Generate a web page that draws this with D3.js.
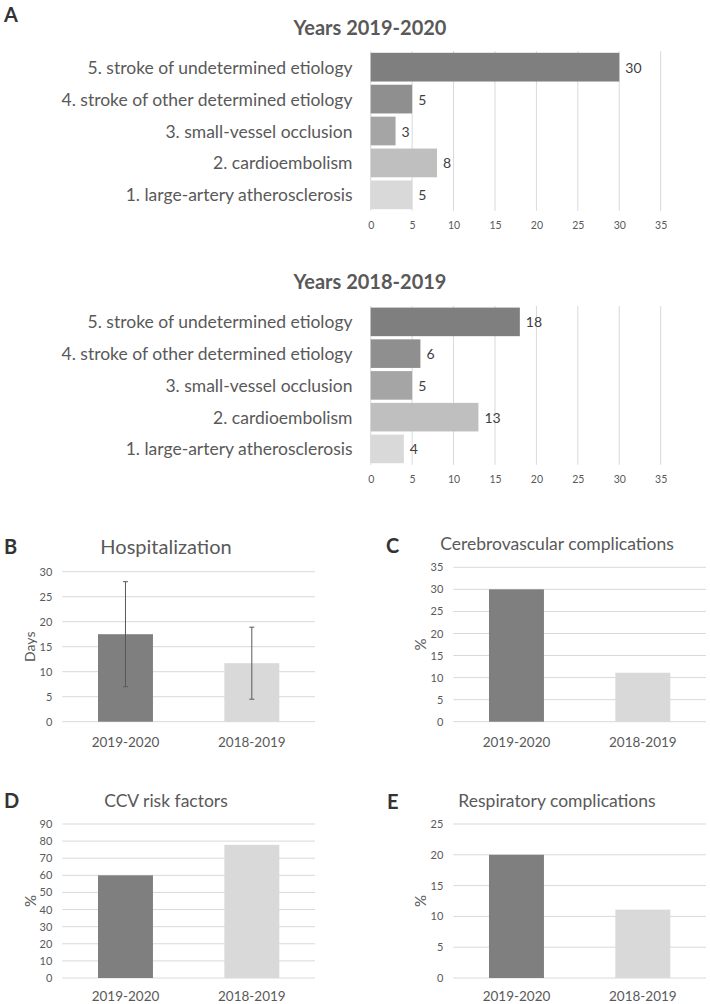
<!DOCTYPE html>
<html>
<head>
<meta charset="utf-8">
<script src="https://cdn.jsdelivr.net/npm/d3@7"></script>
<style>
  html, body { margin: 0; padding: 0; background: #fff; }
  svg { display: block; }
  text { font-family: Lato, "Open Sans", sans-serif; }
</style>
</head>
<body>
<svg id="chart" width="710" height="1004"></svg>
<script>
// ---------- DATA ----------
const etiologyCategories = [
  "1. large-artery atherosclerosis",
  "2. cardioembolism",
  "3. small-vessel occlusion",
  "4. stroke of other determined etiology",
  "5. stroke of undetermined etiology"
];
const counts2019_2020 = [5, 8, 3, 5, 30];
const counts2018_2019 = [4, 13, 5, 6, 18];
const etiologyTicks = [0, 5, 10, 15, 20, 25, 30, 35];

const periods = ["2019-2020", "2018-2019"];
const hospitalizationDays = [17.5, 11.7];
const hospitalizationErr = [10.5, 7.2];
const hospitalizationTicks = [0, 5, 10, 15, 20, 25, 30];
const cerebrovascularPct = [30, 11.1];
const cerebrovascularTicks = [0, 5, 10, 15, 20, 25, 30, 35];
const ccvRiskPct = [60, 77.8];
const ccvRiskTicks = [0, 10, 20, 30, 40, 50, 60, 70, 80, 90];
const respiratoryPct = [20, 11.1];
const respiratoryTicks = [0, 5, 10, 15, 20, 25];

// ---------- STYLE ----------
const TEXT = "#595959";
const GRID = "#d9d9d9";
const catColors = ["#d9d9d9", "#bfbfbf", "#a5a5a5", "#8f8f8f", "#7f7f7f"];
const periodColors = ["#7f7f7f", "#d9d9d9"];

const svg = d3.select("#chart");

function panelLetter(t, x, y) {
  svg.append("text").attr("x", x).attr("y", y).text(t)
    .attr("font-size", 20).attr("font-weight", 700).attr("fill", "#333")
    .attr("dominant-baseline", "central");
}

// ---------- Panel A: horizontal bars ----------
function hbar(title, titleY, values, yTop, yBottom) {
  const g = svg.append("g");
  const x = d3.scaleLinear().domain([0, 35]).range([370.7, 660.7]);
  const cats = etiologyCategories.slice().reverse();
  const y = d3.scaleBand().domain(cats).range([yTop, yBottom]).paddingInner(0.1).paddingOuter(0.05);

  g.append("text").attr("x", 370).attr("y", titleY).text(title)
    .attr("text-anchor", "middle").attr("font-size", 20).attr("font-weight", 700)
    .attr("fill", TEXT).attr("dominant-baseline", "central");

  // grid
  g.selectAll(".grid").data(etiologyTicks).join("line")
    .attr("x1", d => x(d)).attr("x2", d => x(d))
    .attr("y1", yTop).attr("y2", yBottom)
    .attr("stroke", GRID).attr("stroke-width", 1);

  // axis
  const ax = d3.axisBottom(x).tickValues(etiologyTicks).tickSize(0).tickPadding(0);
  const axg = g.append("g").attr("transform", `translate(0,${yBottom + 15})`).call(ax);
  axg.select(".domain").remove();
  axg.selectAll("text").attr("font-size", 10.5).attr("fill", TEXT)
    .attr("font-family", "Lato, sans-serif").attr("dy", "0.32em").attr("y", 0);

  // category labels
  g.selectAll(".cat").data(cats).join("text")
    .attr("x", 352.5).attr("y", d => y(d) + y.bandwidth() / 2)
    .attr("text-anchor", "end").attr("dominant-baseline", "central")
    .attr("font-size", 17.5).attr("fill", TEXT).text(d => d);

  const rows = etiologyCategories.map((c, i) => ({ c, v: values[i], col: catColors[i] }));
  g.selectAll(".bar").data(rows).join("rect")
    .attr("x", x(0)).attr("y", d => y(d.c))
    .attr("width", d => x(d.v) - x(0)).attr("height", y.bandwidth())
    .attr("fill", d => d.col);

  g.selectAll(".val").data(rows).join("text")
    .attr("x", d => x(d.v) + 6).attr("y", d => y(d.c) + y.bandwidth() / 2)
    .attr("dominant-baseline", "central").attr("font-size", 14).attr("fill", "#404040")
    .text(d => d.v);
}

panelLetter("A", 4, 14);
hbar("Years 2019-2020", 27, counts2019_2020, 51.2, 210.8);
hbar("Years 2018-2019", 281, counts2018_2019, 306, 464.8);

// ---------- Vertical bar panels ----------
function vbar(opts) {
  const { x0, x1, yMaxPix, yZeroPix, max, ticks, values, err, title, titleX, titleY, ylabel, ylabelX, ylabelSize, catY, titleSize } = opts;
  const g = svg.append("g");
  const x = d3.scaleBand().domain(periods).range([x0, x1]).paddingInner(0.565).paddingOuter(0.2825);
  const y = d3.scaleLinear().domain([0, max]).range([yZeroPix, yMaxPix]);

  g.selectAll(".grid").data(ticks).join("line")
    .attr("x1", x0).attr("x2", x1)
    .attr("y1", d => y(d)).attr("y2", d => y(d))
    .attr("stroke", GRID).attr("stroke-width", 1);

  const ay = d3.axisLeft(y).tickValues(ticks).tickSize(0).tickPadding(0);
  const ayg = g.append("g").attr("transform", `translate(${x0 - 10},0)`).call(ay);
  ayg.select(".domain").remove();
  ayg.selectAll("text").attr("font-size", 11).attr("fill", TEXT).attr("font-family", "Lato, sans-serif");

  const ax = d3.axisBottom(x).tickSize(0).tickPadding(0);
  const axg = g.append("g").attr("transform", `translate(0,${catY})`).call(ax);
  axg.select(".domain").remove();
  axg.selectAll("text").attr("font-size", 13.5).attr("fill", TEXT)
    .attr("font-family", "Lato, sans-serif").attr("dy", "0.35em").attr("y", 0);

  const rows = periods.map((p, i) => ({ p, v: values[i], e: err ? err[i] : null, col: periodColors[i] }));
  g.selectAll(".bar").data(rows).join("rect")
    .attr("x", d => x(d.p)).attr("y", d => y(d.v))
    .attr("width", x.bandwidth()).attr("height", d => y(0) - y(d.v))
    .attr("fill", d => d.col);

  if (err) {
    rows.forEach(d => {
      const cx = x(d.p) + x.bandwidth() / 2;
      const eg = g.append("g").attr("stroke", "#595959").attr("stroke-width", 1);
      eg.append("line").attr("x1", cx).attr("x2", cx).attr("y1", y(d.v + d.e)).attr("y2", y(d.v - d.e));
      eg.append("line").attr("x1", cx - 2.5).attr("x2", cx + 2.5).attr("y1", y(d.v + d.e)).attr("y2", y(d.v + d.e));
      eg.append("line").attr("x1", cx - 2.5).attr("x2", cx + 2.5).attr("y1", y(d.v - d.e)).attr("y2", y(d.v - d.e));
    });
  }

  g.append("text").attr("x", titleX).attr("y", titleY).text(title)
    .attr("text-anchor", "middle").attr("dominant-baseline", "central")
    .attr("font-size", titleSize).attr("fill", TEXT);

  const ymid = (yMaxPix + yZeroPix) / 2;
  g.append("text").attr("transform", `translate(${ylabelX},${ymid}) rotate(-90)`)
    .attr("text-anchor", "middle").attr("dominant-baseline", "central")
    .attr("font-size", ylabelSize).attr("fill", TEXT).text(ylabel);
}

panelLetter("B", 4, 546);
vbar({ x0: 62.3, x1: 315, yMaxPix: 571.7, yZeroPix: 721.7, max: 30, ticks: hospitalizationTicks,
  values: hospitalizationDays, err: hospitalizationErr, title: "Hospitalization", titleX: 166, titleY: 546,
  titleSize: 20, ylabel: "Days", ylabelX: 29.5, ylabelSize: 14, catY: 742 });

panelLetter("C", 386, 545);
vbar({ x0: 453.3, x1: 706, yMaxPix: 567.3, yZeroPix: 721.7, max: 35, ticks: cerebrovascularTicks,
  values: cerebrovascularPct, err: null, title: "Cerebrovascular complications", titleX: 557, titleY: 543,
  titleSize: 17.5, ylabel: "%", ylabelX: 420, ylabelSize: 15, catY: 742 });

panelLetter("D", 4, 800);
vbar({ x0: 62.3, x1: 315, yMaxPix: 824, yZeroPix: 978, max: 90, ticks: ccvRiskTicks,
  values: ccvRiskPct, err: null, title: "CCV risk factors", titleX: 166, titleY: 800.5,
  titleSize: 17.5, ylabel: "%", ylabelX: 29.5, ylabelSize: 15, catY: 996 });

panelLetter("E", 387, 800.5);
vbar({ x0: 453.3, x1: 706, yMaxPix: 824, yZeroPix: 978, max: 25, ticks: respiratoryTicks,
  values: respiratoryPct, err: null, title: "Respiratory complications", titleX: 557, titleY: 800.5,
  titleSize: 17.5, ylabel: "%", ylabelX: 420, ylabelSize: 15, catY: 996 });
</script>
</body>
</html>
